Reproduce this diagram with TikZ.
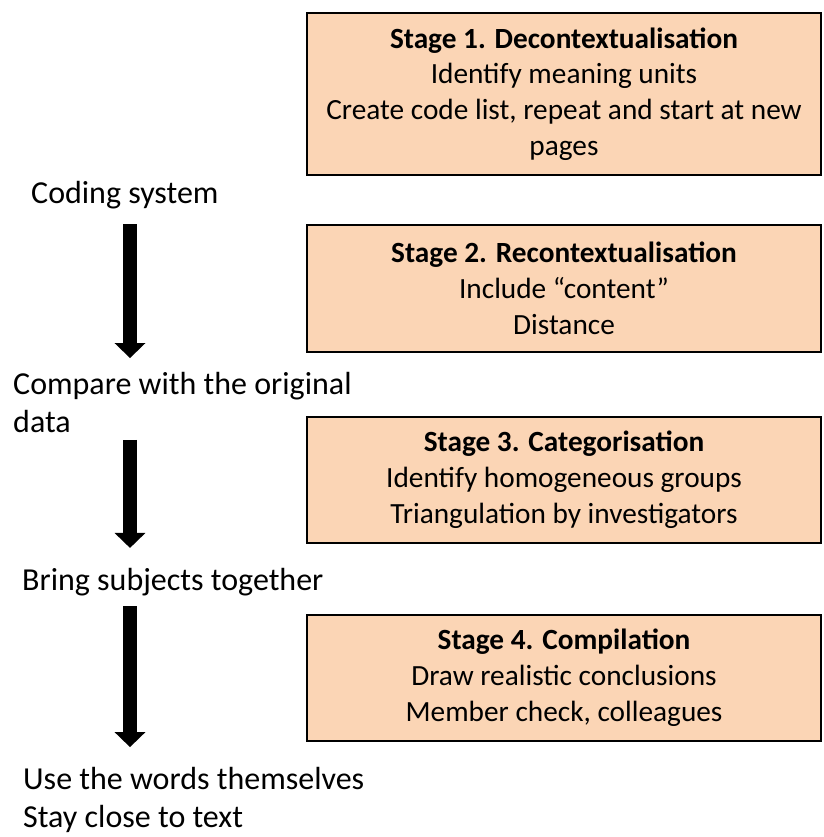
\documentclass[tikz,border=0pt]{standalone}
\usepackage{fontspec}
\setmainfont{Carlito}
\usetikzlibrary{positioning, calc, arrows.meta}

\definecolor{fillColor}{RGB}{251,213,181}
\definecolor{drawColor}{RGB}{0,0,0}

\tikzset{
  stagebox/.style={draw=drawColor, line width=1.4pt, fill=fillColor, minimum width=514pt,
    align=center, inner sep=0pt, font=\fontsize{29.3}{35.8}\selectfont},
  sidelabel/.style={anchor=west, align=left, inner sep=0pt, font=\fontsize{32}{38}\selectfont},
  blockarrow/.style={draw=drawColor, line width=14pt, -{Triangle[width=30pt,length=15pt]}}
}

\begin{document}
\begin{tikzpicture}[x=1pt,y=-1pt]
\path[use as bounding box,fill=white] (0,0) rectangle (823,837);

% stages on the right
\node[stagebox, minimum height=162pt] (stage1) at (564,94)
  {\textbf{Stage 1. Decontextualisation}\\Identify meaning units\\Create code list, repeat and start at new\\pages};
\node[stagebox, minimum height=127pt] (stage2) at (564,288.5)
  {\textbf{Stage 2. Recontextualisation}\\Include “content”\\Distance};
\node[stagebox, minimum height=126pt] (stage3) at (564,480)
  {\textbf{Stage 3. Categorisation}\\Identify homogeneous groups\\Triangulation by investigators};
\node[stagebox, minimum height=126pt] (stage4) at (564,678)
  {\textbf{Stage 4. Compilation}\\Draw realistic conclusions\\Member check, colleagues};

% steps on the left
\node[sidelabel] (code) at (31,195) {Coding system};
\node[sidelabel] (compare) at (13,402.5) {Compare with the original\\data};
\node[sidelabel] (bring) at (22,582) {Bring subjects together};
\node[sidelabel] (words) at (23,800) {Use the words themselves\\Stay close to text};

\coordinate (axis) at (130,0);
\draw[blockarrow] ($(code.south -| axis)+(0,15)$) -- ($(compare.north -| axis)+(0,-14)$);
\draw[blockarrow] ($(compare.south -| axis)+(0,7)$) -- ($(bring.north -| axis)+(0,-20)$);
\draw[blockarrow] ($(bring.south -| axis)+(0,10)$) -- ($(words.north -| axis)+(0,-20)$);
\end{tikzpicture}
\end{document}
